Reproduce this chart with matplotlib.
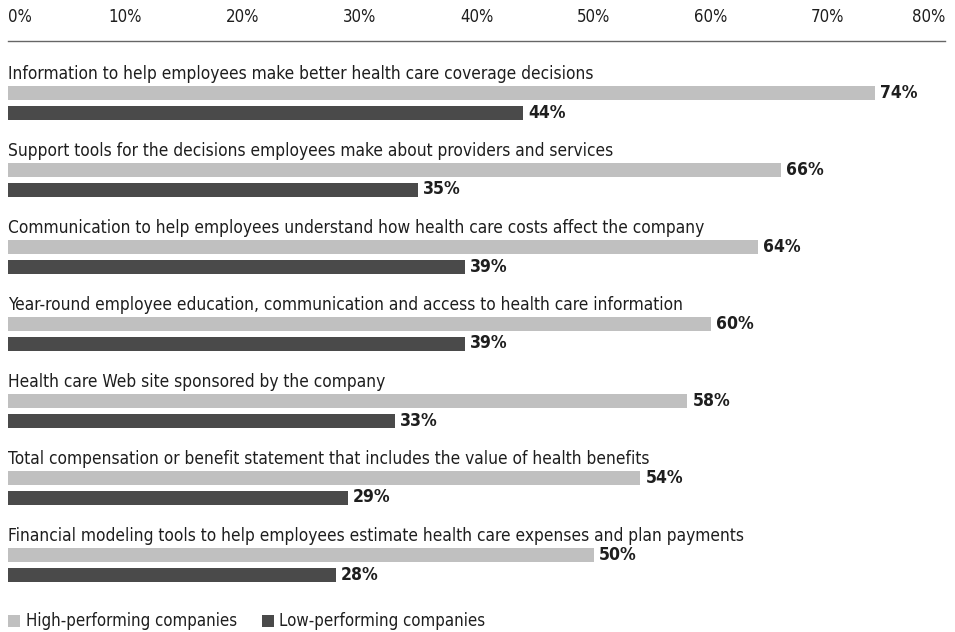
import matplotlib
matplotlib.use("Agg")
import matplotlib.pyplot as plt
from matplotlib import font_manager
from matplotlib.font_manager import FontProperties

categories = [
    "Information to help employees make better health care coverage decisions",
    "Support tools for the decisions employees make about providers and services",
    "Communication to help employees understand how health care costs affect the company",
    "Year-round employee education, communication and access to health care information",
    "Health care Web site sponsored by the company",
    "Total compensation or benefit statement that includes the value of health benefits",
    "Financial modeling tools to help employees estimate health care expenses and plan payments",
]
high = [74, 66, 64, 60, 58, 54, 50]
low = [44, 35, 39, 39, 33, 29, 28]
series_names = ["High-performing companies", "Low-performing companies"]
ticks = [0, 10, 20, 30, 40, 50, 60, 70, 80]
tick_labels = ["0%", "10%", "20%", "30%", "40%", "50%", "60%", "70%", "80%"]


def is_condensed(f):
    st = f.stretch
    if isinstance(st, str):
        if "condensed" in st.lower() or "narrow" in st.lower():
            return True
    elif isinstance(st, (int, float)) and st < 500:
        return True
    n = f.name.lower()
    return "condensed" in n or "narrow" in n


def pick(weight_bold):
    cands = [f for f in font_manager.fontManager.ttflist
             if is_condensed(f) and "mono" not in f.name.lower() and "serif" not in f.name.lower().replace("sans", "")
             and f.style == "normal"]
    if not cands:
        return None
    def wt(f):
        w = f.weight
        if isinstance(w, str):
            w = {"bold": 700, "normal": 400, "regular": 400}.get(w.lower(), 400)
        return w
    target = 700 if weight_bold else 400
    cands.sort(key=lambda f: abs(wt(f) - target))
    return cands[0].fname


reg_file = pick(False)
bold_file = pick(True)
if reg_file:
    fp_reg = FontProperties(fname=reg_file)
    fp_bold = FontProperties(fname=bold_file)
else:
    fp_reg = FontProperties(family="Roboto")
    fp_bold = FontProperties(family="Roboto", weight="bold")

W, H = 955, 632
fig = plt.figure(figsize=(W / 100, H / 100), dpi=100)
top_px = 41
ax = fig.add_axes([8 / W, 0, 937 / W, (H - top_px) / H])
ax.set_xlim(0, 80)
ax.set_ylim(H - top_px, 0)

# fit body font size so the labels span about the same total width as in the reference
renderer = fig.canvas.get_renderer()
total = 0.0
for c in categories:
    probe = fig.text(0, 0, c, fontproperties=fp_reg, fontsize=14)
    total += probe.get_window_extent(renderer).width
    probe.remove()
body_size = 14 * 4335 / total
val_size = body_size * 1.02

c_high = "#c0c0c0"
c_low = "#4a4a4a"
txt = "#1e1e1e"
step = 77
bh = 14
for i, (cat, h, l) in enumerate(zip(categories, high, low)):
    base = 79 - top_px + i * step
    ax.text(0, base, cat, fontproperties=fp_reg, fontsize=body_size, va="baseline", ha="left", color=txt)
    yh = base + 14
    yl = base + 33.5
    ax.barh(yh, h, height=bh, color=c_high, edgecolor="none")
    ax.barh(yl, l, height=bh, color=c_low, edgecolor="none")
    ax.text(h + 0.45, yh, f"{h}%", fontproperties=fp_bold, fontsize=val_size, va="center", ha="left", color=txt)
    ax.text(l + 0.45, yl, f"{l}%", fontproperties=fp_bold, fontsize=val_size, va="center", ha="left", color=txt)

ax.xaxis.tick_top()
ax.set_xticks(ticks)
ax.set_xticklabels(tick_labels, color=txt)
for lab in ax.get_xticklabels():
    lab.set_fontproperties(fp_reg)
    lab.set_fontsize(body_size * 0.97)
ax.tick_params(axis="x", length=0, pad=11)
labs = ax.get_xticklabels()
labs[0].set_ha("left")
labs[-1].set_ha("right")
ax.set_yticks([])
for s in ["right", "left", "bottom"]:
    ax.spines[s].set_visible(False)
ax.spines["top"].set_color("#666666")
ax.spines["top"].set_linewidth(1.0)

# legend
ly = 621 - top_px
ax.barh(ly, 12 / 11.71, left=0, height=12, color=c_high, edgecolor="none", clip_on=False)
ax.text(18 / 11.71, ly, series_names[0], fontproperties=fp_reg, fontsize=body_size * 0.97,
        va="center", ha="left", color=txt)
ax.barh(ly, 12 / 11.71, left=21.7, height=12, color=c_low, edgecolor="none", clip_on=False)
ax.text(21.7 + 17 / 11.71, ly, series_names[1], fontproperties=fp_reg, fontsize=body_size * 0.97,
        va="center", ha="left", color=txt)

fig.savefig("out.png", dpi=100, facecolor="white")
